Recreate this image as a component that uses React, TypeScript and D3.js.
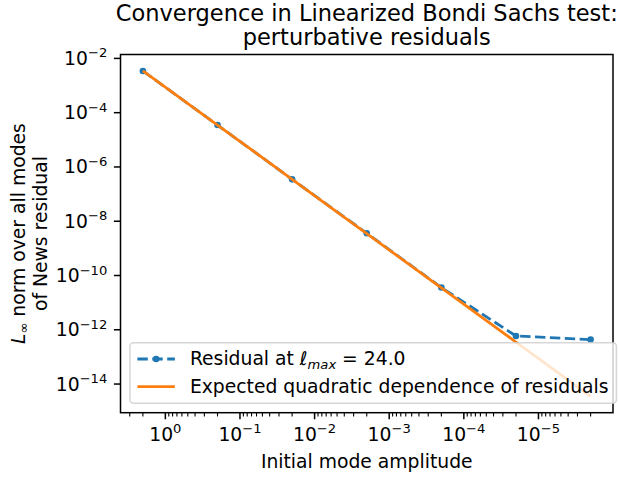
import React from "react";
import * as d3 from "d3";

const amplitudes = [2, 0.2, 0.02, 0.002, 0.0002, 0.00002, 0.000002];
const residuals = [3.45e-3, 3.5e-5, 3.5e-7, 3.6e-9, 3.6e-11, 5.9e-13, 4.35e-13];
const expected = [3.5e-3, 3.5e-5, 3.5e-7, 3.5e-9, 3.5e-11, 3.5e-13, 3.5e-15];
const xTickExps = [0, -1, -2, -3, -4, -5];
const yTickExps = [-2, -4, -6, -8, -10, -12, -14];
const titleLines = ["Convergence in Linearized Bondi Sachs test:", "perturbative residuals"];
const xLabel = "Initial mode amplitude";
const legendExpected = "Expected quadratic dependence of residuals";

const W = 618, H = 479;
const L = 120.5, R = 613, T = 54.5, B = 412.7;
const FS = 18.75;
const SUP = FS * 0.7;
const BLUE = "#1f77b4", ORANGE = "#ff7f0e";

function logDomain(vals: number[], reverse: boolean): [number, number] {
  const lv = vals.map((v) => Math.log10(v));
  const lo = d3.min(lv)!, hi = d3.max(lv)!;
  const m = (hi - lo) * 0.05;
  return reverse ? [10 ** (hi + m), 10 ** (lo - m)] : [10 ** (lo - m), 10 ** (hi + m)];
}

export default function App() {
  const x = d3.scaleLog().domain(logDomain(amplitudes, true)).range([L, R]);
  const yd = logDomain([...residuals, ...expected], false);
  const y = d3.scaleLog().domain([yd[1], yd[0]]).range([T, B]);

  const line = d3
    .line<[number, number]>()
    .x((d) => x(d[0]))
    .y((d) => y(d[1]));
  const resPts: [number, number][] = amplitudes.map((a, i) => [a, residuals[i]]);
  const expPts: [number, number][] = amplitudes.map((a, i) => [a, expected[i]]);

  const [xmax, xmin] = x.domain();
  const minorX: number[] = [];
  for (let e = -7; e <= 1; e++) {
    for (let k = 2; k <= 9; k++) {
      const v = k * 10 ** e;
      if (v <= xmax && v >= xmin) minorX.push(v);
    }
  }

  const tickLen = 6.6, minorLen = 3.75, pad = 6.6;
  const legX = L + 9.4, legBottom = B - 9.4, legH = 60.6, legW = 486.5;
  const legY = legBottom - legH;
  const hx0 = legX + 7.5, hx1 = hx0 + 37.5, tx = hx1 + 15;
  const row1 = legY + 22.3, row2 = legY + 50.5;

  return (
    <div style={{ position: "absolute", left: 0, top: 0 }}>
      <svg width={W} height={H} style={{ display: "block", fontFamily: "DejaVu Sans", background: "#fff" }}>
        <rect x={0} y={0} width={W} height={H} fill="#fff" />
        {/* title */}
        {titleLines.map((t, i) => (
          <text key={i} x={(L + R) / 2} y={21 + i * 24} fontSize={22.5} textAnchor="middle" fill="#000">
            {t}
          </text>
        ))}
        {/* lines */}
        <path d={line(resPts)!} fill="none" stroke={BLUE} strokeWidth={2.8} strokeDasharray="10.4,4.5" />
        {resPts.map((p, i) => (
          <circle key={i} cx={x(p[0])} cy={y(p[1])} r={3.3} fill={BLUE} />
        ))}
        <path d={line(expPts)!} fill="none" stroke={ORANGE} strokeWidth={2.8} />
        {/* x ticks */}
        {minorX.map((v, i) => (
          <line key={"mx" + i} x1={x(v)} x2={x(v)} y1={B} y2={B + minorLen} stroke="#000" strokeWidth={1.1} />
        ))}
        {xTickExps.map((e) => {
          const px = x(10 ** e);
          return (
            <g key={"xt" + e}>
              <line x1={px} x2={px} y1={B} y2={B + tickLen} stroke="#000" strokeWidth={1.5} />
              <text x={px} y={441} fontSize={FS} textAnchor="middle" fill="#000">
                10
                <tspan fontSize={SUP} dy={-8}>
                  {e < 0 ? "\u2212" + Math.abs(e) : String(e)}
                </tspan>
              </text>
            </g>
          );
        })}
        {/* y ticks */}
        {yTickExps.map((e) => {
          const py = y(10 ** e);
          return (
            <g key={"yt" + e}>
              <line x1={L - tickLen} x2={L} y1={py} y2={py} stroke="#000" strokeWidth={1.5} />
              <text x={L - tickLen - pad} y={py + 6.5} fontSize={FS} textAnchor="end" fill="#000">
                10
                <tspan fontSize={SUP} dy={-7.5}>
                  {"\u2212" + Math.abs(e)}
                </tspan>
              </text>
            </g>
          );
        })}
        {/* spines */}
        <rect x={L} y={T} width={R - L} height={B - T} fill="none" stroke="#000" strokeWidth={1.5} />
        {/* axis labels */}
        <text x={(L + R) / 2} y={468} fontSize={FS} textAnchor="middle" fill="#000">
          {xLabel}
        </text>
        <text transform={`translate(25,${(T + B) / 2}) rotate(-90)`} fontSize={FS} textAnchor="middle" fill="#000">
          <tspan fontStyle="italic">L</tspan>
          <tspan fontSize={SUP} dy={3}>{"\u221e"}</tspan>
          <tspan dy={-3}>{" norm over all modes"}</tspan>
        </text>
        <text transform={`translate(47,${(T + B) / 2}) rotate(-90)`} fontSize={FS} textAnchor="middle" fill="#000">
          of News residual
        </text>
        {/* legend */}
        <rect x={legX} y={legY} width={legW} height={legH} rx={3.5} ry={3.5} fill="#fff" fillOpacity={0.8} stroke="#cccccc" strokeOpacity={0.8} strokeWidth={1.5} />
        <line x1={hx0} x2={hx1} y1={row1 - 6} y2={row1 - 6} stroke={BLUE} strokeWidth={2.8} strokeDasharray="10.4,4.5" />
        <circle cx={(hx0 + hx1) / 2} cy={row1 - 6} r={3.3} fill={BLUE} />
        <text x={tx} y={row1} fontSize={FS} fill="#000">
          {"Residual at "}
          <tspan fontStyle="italic">{"\u2113"}</tspan>
          <tspan fontStyle="italic" fontSize={SUP} dy={3.5}>max</tspan>
          <tspan dy={-3.5}>{" = 24.0"}</tspan>
        </text>
        <line x1={hx0} x2={hx1} y1={row2 - 6.5} y2={row2 - 6.5} stroke={ORANGE} strokeWidth={2.8} />
        <text x={tx} y={row2} fontSize={FS} fill="#000">
          {legendExpected}
        </text>
      </svg>
    </div>
  );
}
